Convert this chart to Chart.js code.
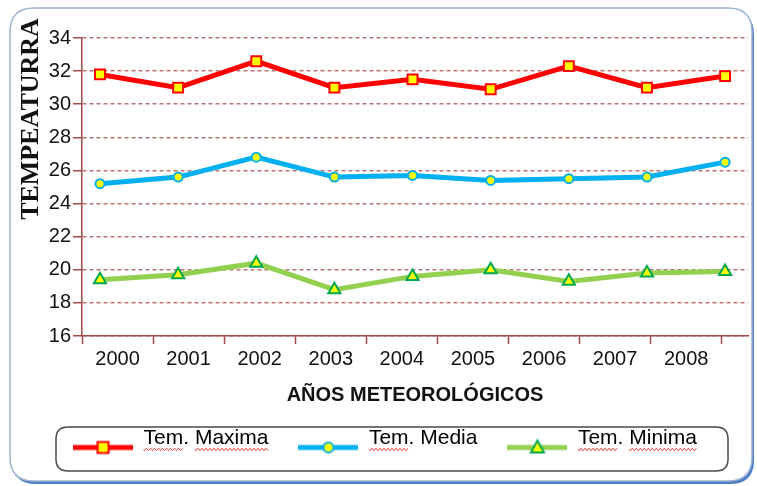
<!DOCTYPE html>
<html>
<head>
<meta charset="utf-8">
<script src="https://cdn.jsdelivr.net/npm/chart.js@4.4.1/dist/chart.umd.min.js"></script>
<style>
  html, body { margin: 0; padding: 0; background: #fff; }
  #wrap { width: 757px; height: 486px; }
</style>
</head>
<body>
<div id="wrap"><canvas id="tempChart" width="757" height="486"></canvas></div>
<script>
// Years on the x axis
const years = ['2000', '2001', '2002', '2003', '2004', '2005', '2006', '2007', '2008'];

// Temperatures (°C)
const tempMax = [31.8, 31.0, 32.6, 31.0, 31.5, 30.9, 32.3, 31.0, 31.7];
const tempMed = [25.2, 25.6, 26.8, 25.6, 25.7, 25.4, 25.5, 25.6, 26.5];
const tempMin = [19.4, 19.7, 20.4, 18.8, 19.6, 20.0, 19.3, 19.8, 19.9];

const seriesNames = ['Tem. Maxima', 'Tem. Media', 'Tem. Minima'];
const yMin = 16, yMax = 34, yStep = 2;

Chart.defaults.font.family = "'Liberation Sans', Arial, sans-serif";
Chart.defaults.color = '#111';

const axisColor = '#a24a4a';
const gridColor = 'rgba(170, 70, 70, 0.75)';

// small canvas icon: line with the marker in the middle (used in the legend)
function makeIcon(lineColor, style, edgeColor) {
    const c = document.createElement('canvas');
    c.width = 60; c.height = 40;
    const g = c.getContext('2d');
    const cy = 29;
    g.strokeStyle = lineColor;
    g.lineWidth = 5;
    g.beginPath(); g.moveTo(0, cy); g.lineTo(60, cy); g.stroke();
    g.fillStyle = '#ffff00';
    g.strokeStyle = edgeColor;
    g.lineWidth = 2;
    g.beginPath();
    if (style === 'rect') {
        g.rect(24.5, cy - 5.5, 11, 11);
    } else if (style === 'circle') {
        g.arc(30, cy, 5, 0, Math.PI * 2);
    } else {
        g.moveTo(30, cy - 7); g.lineTo(36.5, cy + 5); g.lineTo(23.5, cy + 5); g.closePath();
    }
    g.fill(); g.stroke();
    return c;
}
const legendIcons = [
    makeIcon('#ff0000', 'rect', '#ff0000'),
    makeIcon('#00b0f0', 'circle', '#00b0f0'),
    makeIcon('#92d050', 'triangle', '#00a650')
];

function toPoints(values) {
    return values.map((v, i) => ({ x: i, y: v }));
}

function roundRect(ctx, x, y, w, h, r) {
    ctx.beginPath();
    ctx.moveTo(x + r, y);
    ctx.lineTo(x + w - r, y);
    ctx.quadraticCurveTo(x + w, y, x + w, y + r);
    ctx.lineTo(x + w, y + h - r);
    ctx.quadraticCurveTo(x + w, y + h, x + w - r, y + h);
    ctx.lineTo(x + r, y + h);
    ctx.quadraticCurveTo(x, y + h, x, y + h - r);
    ctx.lineTo(x, y + r);
    ctx.quadraticCurveTo(x, y, x + r, y);
    ctx.closePath();
}

// outer frame, legend box, y title and spell-check squiggles
const decorations = {
    id: 'decorations',
    beforeDraw(chart) {
        const ctx = chart.ctx;
        ctx.save();
        roundRect(ctx, 12, 11, 742, 473, 24);
        ctx.fillStyle = '#4f7fc6';
        ctx.fill();
        roundRect(ctx, 10, 8, 742, 473, 24);
        ctx.fillStyle = '#ffffff';
        ctx.fill();
        ctx.lineWidth = 1.5;
        ctx.strokeStyle = '#9fb4d2';
        ctx.stroke();
        ctx.restore();
    },
    afterDraw(chart) {
        const ctx = chart.ctx;
        ctx.save();
        // y title
        ctx.translate(38, 119);
        ctx.rotate(-Math.PI / 2);
        ctx.font = "bold 26px 'Liberation Serif', 'Times New Roman', serif";
        ctx.fillStyle = '#111';
        ctx.textAlign = 'center';
        ctx.textBaseline = 'alphabetic';
        ctx.fillText('TEMPEATURRA', 0, 0);
        ctx.restore();

        // legend box
        ctx.save();
        roundRect(ctx, 56, 427, 672, 44, 12);
        ctx.lineWidth = 1.5;
        ctx.strokeStyle = '#4a4a4a';
        ctx.stroke();
        ctx.restore();

        // wavy underlines
        const lg = chart.legend;
        const flagged = ['Tem', 'Maxima', 'Minima'];
        ctx.save();
        ctx.font = "21px 'Liberation Sans', Arial, sans-serif";
        ctx.strokeStyle = '#e02020';
        ctx.lineWidth = 1;
        lg.legendHitBoxes.forEach((hb, i) => {
            const text = lg.legendItems[i].text;
            let x = hb.left + 60 + 10.5;
            const y = hb.top + hb.height / 2 + 11;
            const parts = text.split(/(\W+)/);
            parts.forEach(p => {
                const w = ctx.measureText(p).width;
                if (flagged.includes(p)) {
                    ctx.beginPath();
                    for (let k = 0; k <= w; k += 1) {
                        const yy = y + Math.sin(k * Math.PI / 2) * 1.2;
                        if (k === 0) ctx.moveTo(x + k, yy); else ctx.lineTo(x + k, yy);
                    }
                    ctx.stroke();
                }
                x += w;
            });
        });
        ctx.restore();
    }
};

const ctx = document.getElementById('tempChart').getContext('2d');
const tempChart = new Chart(ctx, {
    type: 'line',
    data: {
        datasets: [
            {
                label: seriesNames[0],
                data: toPoints(tempMax),
                borderColor: '#ff0000',
                borderWidth: 5,
                pointStyle: 'rect',
                pointRadius: 7,
                pointBackgroundColor: '#ffff00',
                pointBorderColor: '#ff0000',
                pointBorderWidth: 2,
                xAxisID: 'xd'
            },
            {
                label: seriesNames[1],
                data: toPoints(tempMed),
                borderColor: '#00b0f0',
                borderWidth: 5,
                pointStyle: 'circle',
                pointRadius: 4.5,
                pointBackgroundColor: '#ffff00',
                pointBorderColor: '#00b0f0',
                pointBorderWidth: 2,
                xAxisID: 'xd'
            },
            {
                label: seriesNames[2],
                data: toPoints(tempMin),
                borderColor: '#92d050',
                borderWidth: 5,
                pointStyle: 'triangle',
                pointRadius: 7,
                pointBackgroundColor: '#ffff00',
                pointBorderColor: '#00a650',
                pointBorderWidth: 2,
                xAxisID: 'xd'
            }
        ]
    },
    options: {
        responsive: false,
        animation: false,
        devicePixelRatio: 1,
        layout: { padding: { left: 20, right: 7, top: 38, bottom: 27 } },
        scales: {
            // hidden axis the points sit on
            xd: {
                type: 'linear',
                display: false,
                min: -0.23,
                max: 8.293
            },
            // visible axis carrying the year labels
            x: {
                type: 'linear',
                position: 'bottom',
                min: 0,
                max: 9.37,
                afterBuildTicks: (scale) => {
                    scale.ticks = years.map((_, i) => ({ value: i + 0.5 }));
                },
                afterFit: (scale) => { scale.height = 62; },
                ticks: {
                    autoSkip: false,
                    maxRotation: 0,
                    padding: 3,
                    font: { size: 20 },
                    color: '#111',
                    callback: (v) => years[Math.floor(v)]
                },
                grid: {
                    offset: true,
                    drawOnChartArea: false,
                    tickLength: 8,
                    tickColor: axisColor,
                    tickWidth: 1.5
                },
                border: { color: axisColor, width: 1.5 },
                title: {
                    display: true,
                    text: 'AÑOS METEOROLÓGICOS',
                    font: { size: 20, weight: 'bold' },
                    color: '#111',
                    padding: { top: 6, bottom: -9 }
                }
            },
            y: {
                min: yMin,
                max: yMax,
                afterFit: (scale) => { scale.width = 62; },
                ticks: {
                    stepSize: yStep,
                    padding: 2,
                    font: { size: 20 },
                    color: '#111'
                },
                grid: {
                    color: gridColor,
                    lineWidth: 1.5,
                    tickLength: 9,
                    tickColor: axisColor,
                    tickWidth: 1.5
                },
                border: { color: axisColor, width: 1.5, dash: [4, 3] }
            }
        },
        plugins: {
            legend: {
                display: true,
                position: 'bottom',
                labels: {
                    usePointStyle: true,
                    pointStyleWidth: 60,
                    padding: 30,
                    color: '#111',
                    font: { size: 21 },
                    generateLabels: (chart) => chart.data.datasets.map((ds, i) => ({
                        text: ds.label,
                        pointStyle: legendIcons[i],
                        fillStyle: ds.borderColor,
                        strokeStyle: ds.borderColor,
                        lineWidth: 0,
                        datasetIndex: i,
                        hidden: false
                    }))
                }
            },
            tooltip: { enabled: false }
        }
    },
    plugins: [decorations]
});
</script>
</body>
</html>
